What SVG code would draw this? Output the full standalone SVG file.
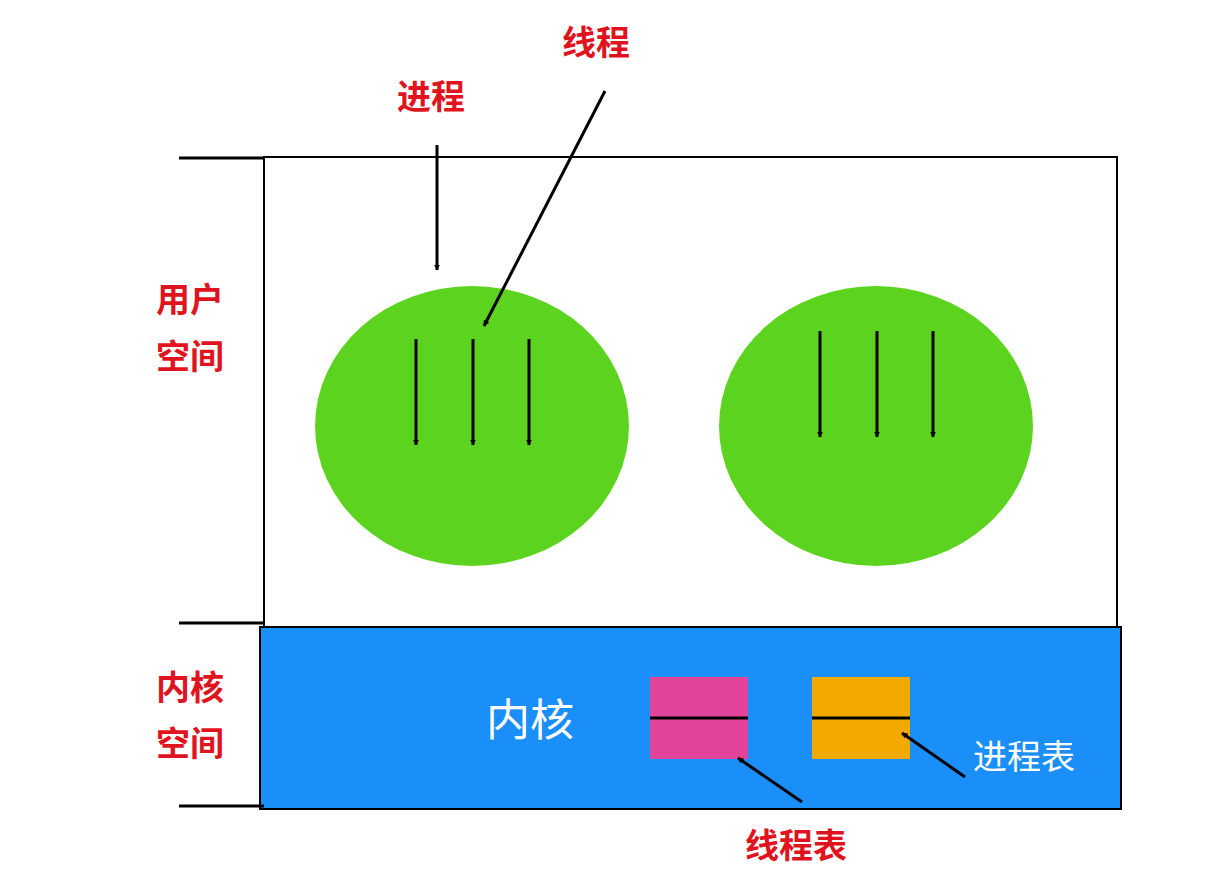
<svg xmlns="http://www.w3.org/2000/svg" width="1230" height="884" viewBox="0 0 1230 884">
<style>
.lbl{font-family:"Noto Sans CJK SC",sans-serif;font-weight:bold;font-size:34px;fill:#e0141e;text-anchor:middle}
.w{fill:#fff}
.ar{stroke:#000;stroke-width:3;fill:none;marker-end:url(#ah)}
.tk{stroke:#000;stroke-width:3}
</style>
<defs><marker id="ah" viewBox="0 0 10 10" refX="9" refY="5" markerWidth="6" markerHeight="6" orient="auto" markerUnits="userSpaceOnUse" ><path d="M0,0L10,5L0,10z" fill="#000"/></marker></defs>
<rect width="1230" height="884" fill="#fff"/>
<g id="user"><rect x="264" y="157" width="853" height="470" fill="#fff" stroke="#000" stroke-width="2"/></g>
<g id="kernel"><rect x="260" y="627" width="861" height="182" fill="#1a8ffa" stroke="#000" stroke-width="2"/>
<text x="530" y="736" class="lbl w" font-size="44" style="font-size:44px;font-weight:normal">内核</text></g>
<g id="ticks"><line class="tk" x1="179" y1="158" x2="264" y2="158"/><line class="tk" x1="179" y1="623" x2="264" y2="623"/><line class="tk" x1="179" y1="806" x2="264" y2="806"/></g>
<g id="p1"><ellipse cx="472" cy="426" rx="157" ry="140" fill="#5cd41f"/></g>
<g id="p2"><ellipse cx="876" cy="426" rx="157" ry="140" fill="#5cd41f"/></g>
<g id="tt"><rect x="650" y="677" width="98" height="82" fill="#e2449c"/><line x1="650" y1="718" x2="748" y2="718" stroke="#000" stroke-width="3"/></g>
<g id="pt"><rect x="812" y="677" width="98" height="82" fill="#f2aa00"/><line x1="812" y1="718" x2="910" y2="718" stroke="#000" stroke-width="3"/></g>
<g id="labels">
<text x="431" y="109" class="lbl">进程</text>
<text x="596" y="55" class="lbl">线程</text>
<text x="190" y="312" class="lbl">用户</text>
<text x="190" y="369" class="lbl">空间</text>
<text x="190" y="700" class="lbl">内核</text>
<text x="190" y="756" class="lbl">空间</text>
<text x="1024" y="769" class="lbl w" style="font-weight:normal">进程表</text>
<text x="796" y="858" class="lbl">线程表</text>
</g>
<g id="connectors">
<line class="ar" x1="437" y1="145" x2="437" y2="270"/>
<line class="ar" x1="605" y1="91" x2="484" y2="326"/>
<line class="ar" x1="416" y1="339" x2="416" y2="445"/>
<line class="ar" x1="473" y1="339" x2="473" y2="445"/>
<line class="ar" x1="529" y1="339" x2="529" y2="445"/>
<line class="ar" x1="820" y1="331" x2="820" y2="437"/>
<line class="ar" x1="877" y1="331" x2="877" y2="437"/>
<line class="ar" x1="933" y1="331" x2="933" y2="437"/>
<line class="ar" x1="965" y1="777" x2="902" y2="733"/>
<line class="ar" x1="802" y1="802" x2="738" y2="758"/>
</g>
</svg>
